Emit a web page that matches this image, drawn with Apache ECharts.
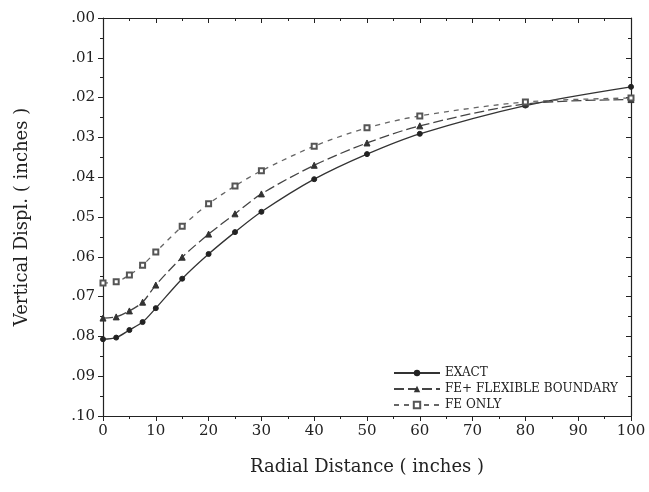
<!DOCTYPE html>
<html>
<head>
<meta charset="utf-8">
<script src="https://cdn.jsdelivr.net/npm/echarts@6/dist/echarts.min.js"></script>
<style>html,body{margin:0;padding:0;background:#fff;}#c{width:649px;height:492px;}</style>
</head>
<body>
<div id="c"></div>
<script>
var radial = [0, 2.5, 5, 7.5, 10, 15, 20, 25, 30, 40, 50, 60, 80, 100];
var exact = [0.0807, 0.0803, 0.0784, 0.0764, 0.0729, 0.0655, 0.0593, 0.0538, 0.0487, 0.0405, 0.0342, 0.0291, 0.0220, 0.0173];
var feFlex = [0.0754, 0.0751, 0.0736, 0.0714, 0.0671, 0.0601, 0.0543, 0.0492, 0.0442, 0.0370, 0.0314, 0.0271, 0.0216, 0.0205];
var feOnly = [0.0666, 0.0663, 0.0646, 0.0621, 0.0588, 0.0523, 0.0467, 0.0422, 0.0384, 0.0322, 0.0276, 0.0246, 0.0211, 0.0201];
var seriesNames = ['EXACT', 'FE+ FLEXIBLE BOUNDARY', 'FE ONLY'];

function pairs(ys) { return radial.map(function (x, i) { return [x, ys[i]]; }); }
var font = 'DejaVu Serif';
var axisLine = { show: true, onZero: false, lineStyle: { color: '#222', width: 1.2 } };
var chart = echarts.init(document.getElementById('c'));
chart.setOption({
  animation: false,
  backgroundColor: '#fff',
  grid: { left: 103, right: 18, top: 18, bottom: 76 },
  legend: {
    orient: 'vertical', left: 388, top: 362, itemWidth: 46, itemHeight: 8, itemGap: 4,
    textStyle: { fontFamily: font, fontSize: 12, color: '#222' },
    data: seriesNames
  },
  xAxis: [{
    type: 'value', min: 0, max: 100, interval: 10,
    name: 'Radial Distance ( inches )', nameLocation: 'middle', nameGap: 42,
    nameTextStyle: { fontFamily: font, fontSize: 18, color: '#222' },
    axisLine: axisLine,
    axisTick: { length: 5, lineStyle: { color: '#222' } },
    minorTick: { show: true, splitNumber: 2, length: 3, lineStyle: { color: '#222' } },
    axisLabel: { fontFamily: font, fontSize: 15, color: '#222', margin: 8 },
    splitLine: { show: false }
  }, {
    type: 'value', min: 0, max: 100, interval: 10, position: 'top',
    axisLine: axisLine,
    axisTick: { inside: true, length: 5, lineStyle: { color: '#222' } },
    minorTick: { show: true, splitNumber: 2, length: 3, lineStyle: { color: '#222' } },
    axisLabel: { show: false }, splitLine: { show: false }
  }],
  yAxis: [{
    type: 'value', min: 0, max: 0.1, interval: 0.01, inverse: true,
    name: 'Vertical Displ. ( inches )', nameLocation: 'middle', nameGap: 72,
    nameTextStyle: { fontFamily: font, fontSize: 18, color: '#222' },
    axisLine: axisLine,
    axisTick: { length: 5, lineStyle: { color: '#222' } },
    minorTick: { show: true, splitNumber: 2, length: 3, lineStyle: { color: '#222' } },
    axisLabel: {
      fontFamily: font, fontSize: 15, color: '#222', margin: 8,
      formatter: function (v) { var n = Math.round(v * 100); return '.' + (n < 10 ? '0' + n : '' + n); }
    },
    splitLine: { show: false }
  }, {
    type: 'value', min: 0, max: 0.1, interval: 0.01, inverse: true, position: 'right',
    axisLine: axisLine,
    axisTick: { inside: true, length: 5, lineStyle: { color: '#222' } },
    minorTick: { show: true, splitNumber: 2, length: 3, lineStyle: { color: '#222' } },
    axisLabel: { show: false }, splitLine: { show: false }
  }],
  series: [{
    name: seriesNames[0], type: 'line', xAxisIndex: 0, yAxisIndex: 0,
    data: pairs(exact), smooth: 0.3,
    symbol: 'circle', symbolSize: 5,
    lineStyle: { color: '#333', width: 1.3, type: 'solid' },
    itemStyle: { color: '#222', borderColor: '#222' }
  }, {
    name: seriesNames[1], type: 'line', xAxisIndex: 0, yAxisIndex: 0,
    data: pairs(feFlex), smooth: 0.3,
    symbol: 'triangle', symbolSize: 6,
    lineStyle: { color: '#444', width: 1.3, type: [10, 4] },
    itemStyle: { color: '#333', borderColor: '#333' }
  }, {
    name: seriesNames[2], type: 'line', xAxisIndex: 0, yAxisIndex: 0,
    data: pairs(feOnly), smooth: 0.3,
    symbol: 'emptyRect', symbolSize: 5, showSymbol: true,
    lineStyle: { color: '#666', width: 1.3, type: [5, 5] },
    itemStyle: { color: '#555', borderColor: '#555', borderWidth: 1 }
  }]
});
</script>
</body>
</html>
